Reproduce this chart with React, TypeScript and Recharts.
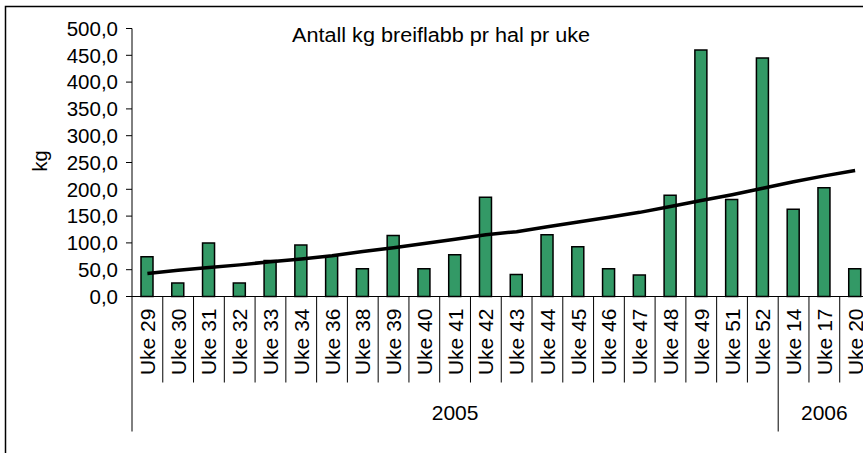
import React from 'react';
import { ComposedChart, Bar, Line, XAxis, YAxis, Customized } from 'recharts';

const categories = ['Uke 29', 'Uke 30', 'Uke 31', 'Uke 32', 'Uke 33', 'Uke 34', 'Uke 36', 'Uke 38', 'Uke 39', 'Uke 40', 'Uke 41', 'Uke 42', 'Uke 43', 'Uke 44', 'Uke 45', 'Uke 46', 'Uke 47', 'Uke 48', 'Uke 49', 'Uke 51', 'Uke 52', 'Uke 14', 'Uke 17', 'Uke 20'];
const kgValues = [74, 25, 100, 25, 67, 96, 76, 52, 114, 52, 78, 185, 41, 115, 93, 52, 40, 189, 460, 181, 445, 163, 203, 52];
const trendValues = [43, 49, 54, 59, 65, 70, 76, 84, 91, 99, 107, 115, 121, 130, 139, 148, 157, 168, 179, 190, 202, 214, 225, 235];
const yearLabels = ['2005', '2006'];
const yearCounts = [21, 3];
const yTicks = [0, 50, 100, 150, 200, 250, 300, 350, 400, 450, 500];
const titleText = 'Antall kg breiflabb pr hal pr uke';
const yAxisTitle = 'kg';

const data = categories.map((c, i) => ({ name: c, kg: kgValues[i], trend: trendValues[i] }));

const CHART_W = 880;
const CHART_H = 453;
const MARGIN = { top: 28.5, right: 9.5, bottom: 0, left: 0 };
const YAXIS_W = 132;
const XAXIS_H = CHART_H - 296.5;
const BAND = (CHART_W - MARGIN.left - MARGIN.right - YAXIS_W) / categories.length;
const FONT = "Arial, 'Liberation Sans', sans-serif";

const groupStarts: number[] = [];
{
  let s = 0;
  for (const c of yearCounts) { groupStarts.push(s); s += c; }
}

const XTick = (props: any) => {
  const { x, y, payload } = props;
  const index = props.index ?? payload?.index ?? 0;
  const left = x - BAND / 2;
  const gi = groupStarts.indexOf(index);
  const isGroupStart = gi >= 0;
  return (
    <g>
      <line x1={left} y1={y} x2={left} y2={isGroupStart ? y + 135 : y + 86} stroke="#000" strokeWidth={1} />
      <text
        x={x}
        y={y + 12}
        transform={`rotate(-90 ${x} ${y + 12})`}
        textAnchor="end"
        dy="0.36em"
        fontSize={21}
        fontFamily={FONT}
        fill="#000"
      >
        {payload.value}
      </text>
      {isGroupStart && (
        <text
          x={left + (yearCounts[gi] * BAND) / 2}
          y={y + 123}
          textAnchor="middle"
          fontSize={21}
          fontFamily={FONT}
          fill="#000"
        >
          {yearLabels[gi]}
        </text>
      )}
    </g>
  );
};

const Decor = () => (
  <g>
    <rect x={5.5} y={6.5} width={1000} height={1000} fill="none" stroke="#000" strokeWidth={1.5} />
    <text x={441} y={42} textAnchor="middle" fontSize={20} fontFamily={FONT} fill="#000" textLength={298} lengthAdjust="spacingAndGlyphs">
      {titleText}
    </text>
    <text x={40} y={161} transform="rotate(-90 40 161)" textAnchor="middle" dy="0.36em" fontSize={20} fontFamily={FONT} fill="#000">
      {yAxisTitle}
    </text>
  </g>
);

export default function App() {
  return (
    <div style={{ position: 'absolute', left: 0, top: 0, width: 863, height: 453, overflow: 'hidden', background: '#fff' }}>
      <ComposedChart width={CHART_W} height={CHART_H} data={data} margin={MARGIN}>
        <Customized component={Decor} />
        <YAxis
          width={YAXIS_W}
          domain={[0, 500]}
          ticks={yTicks}
          interval={0}
          tickSize={6}
          tickMargin={8}
          axisLine={{ stroke: '#000', strokeWidth: 1 }}
          tickLine={{ stroke: '#000', strokeWidth: 1 }}
          tick={{ fontSize: 20.5, fontFamily: FONT, fill: '#000' }}
          tickFormatter={(v: number) => v.toFixed(1).replace('.', ',')}
        />
        <XAxis
          dataKey="name"
          height={XAXIS_H}
          interval={0}
          tickSize={0}
          tickMargin={0}
          tickLine={false}
          axisLine={{ stroke: '#000', strokeWidth: 1 }}
          tick={<XTick />}
        />
        <Bar dataKey="kg" fill="#339966" stroke="#000" strokeWidth={1.5} barSize={12} isAnimationActive={false} />
        <Line dataKey="trend" type="linear" stroke="#000" strokeWidth={3.5} dot={false} activeDot={false} isAnimationActive={false} />
      </ComposedChart>
    </div>
  );
}
